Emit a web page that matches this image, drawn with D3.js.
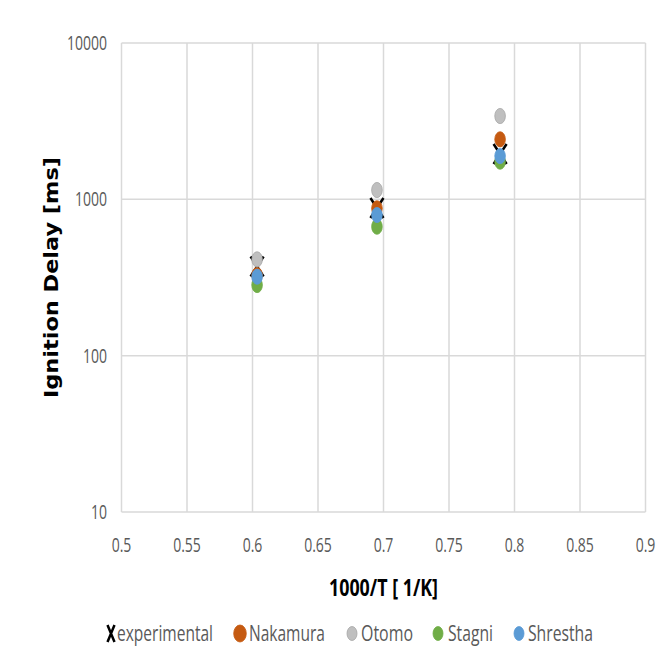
<!DOCTYPE html>
<html>
<head>
  <meta charset="UTF-8">
  <title>Ignition Delay</title>
  <style>
    body{ margin: 0; background-color: #fff; }
    text{ fill: #595959; font-family: "Open Sans", "Liberation Sans", sans-serif; }
  </style>
</head>
<body>
<svg></svg>
<script src="https://d3js.org/d3.v7.min.js"></script>
<script>

let width = 671, height = 672;

// data
let invT = [0.6035, 0.695, 0.789];
let experimental = [372, 880, 1950];
let nakamura = [328, 876, 2420];
let otomo = [413, 1147, 3412];
let stagni = [283, 668, 1741];
let shrestha = [320, 794, 1892];

let xTicks = [0.5, 0.55, 0.6, 0.65, 0.7, 0.75, 0.8, 0.85, 0.9];
let yTicks = [10, 100, 1000, 10000];

let series = [
    {name: "experimental", values: experimental, color: "#000", type: "x"},
    {name: "Nakamura", values: nakamura, color: "#C55A11", type: "o"},
    {name: "Otomo", values: otomo, color: "#BFBFBF", stroke: "#A6A6A6", type: "o"},
    {name: "Stagni", values: stagni, color: "#70AD47", type: "o"},
    {name: "Shrestha", values: shrestha, color: "#5B9BD5", type: "o"}
];

let svg = d3.select("svg")
    .attr("width", width)
    .attr("height", height);

let x = d3.scaleLinear().domain([0.5, 0.9]).range([121.5, 645.5]);
let y = d3.scaleLog().domain([10, 10000]).range([512, 43]);

// squeeze text horizontally (condensed look of the original)
function squeeze(sel, k) {
    sel.each(function() {
        let w = this.getComputedTextLength();
        d3.select(this).attr("textLength", w * k).attr("lengthAdjust", "spacingAndGlyphs");
    });
}

// grid
svg.append("g")
    .selectAll("line")
    .data(xTicks)
    .enter().append("line")
    .attr("x1", d => x(d)).attr("x2", d => x(d))
    .attr("y1", y(10000)).attr("y2", y(10))
    .attr("stroke", "#d9d9d9").attr("stroke-width", 1.5);

svg.append("g")
    .selectAll("line")
    .data(yTicks)
    .enter().append("line")
    .attr("x1", x(0.5)).attr("x2", x(0.9))
    .attr("y1", d => y(d)).attr("y2", d => y(d))
    .attr("stroke", "#d9d9d9").attr("stroke-width", 1.5);

// tick labels
let yl = svg.append("g")
    .selectAll("text")
    .data(yTicks)
    .enter().append("text")
    .attr("x", 107)
    .attr("y", d => y(d))
    .attr("dy", "0.35em")
    .attr("text-anchor", "end")
    .attr("font-size", 20)
    .text(d => d);
squeeze(yl, 0.7);

let xl = svg.append("g")
    .selectAll("text")
    .data(xTicks)
    .enter().append("text")
    .attr("x", d => x(d))
    .attr("y", 545)
    .attr("dy", "0.35em")
    .attr("text-anchor", "middle")
    .attr("font-size", 20)
    .text(d => d);
squeeze(xl, 0.7);

// axis titles
svg.append("text")
    .attr("x", 383.5)
    .attr("y", 588)
    .attr("dy", "0.35em")
    .attr("text-anchor", "middle")
    .attr("font-size", 24)
    .attr("font-weight", "bold")
    .style("fill", "#000")
    .attr("textLength", 109)
    .attr("lengthAdjust", "spacingAndGlyphs")
    .text("1000/T [ 1/K]");

svg.append("text")
    .attr("transform", "translate(51,277.5) rotate(-90)")
    .attr("dy", "0.35em")
    .attr("text-anchor", "middle")
    .attr("font-size", 20)
    .attr("font-weight", "bold")
    .style("font-family", "'DejaVu Sans', sans-serif")
    .style("fill", "#000")
    .attr("textLength", 241)
    .attr("lengthAdjust", "spacingAndGlyphs")
    .text("Ignition Delay [ms]");

// markers
function drawMarker(g, s, cx, cy, rx, ry) {
    if (s.type === "x") {
        g.append("path")
            .attr("d", `M${cx - rx},${cy - ry}L${cx + rx},${cy + ry}M${cx + rx},${cy - ry}L${cx - rx},${cy + ry}`)
            .attr("stroke", s.color)
            .attr("stroke-width", 2.5)
            .attr("fill", "none");
    } else {
        g.append("ellipse")
            .attr("cx", cx).attr("cy", cy)
            .attr("rx", rx).attr("ry", ry)
            .attr("fill", s.color)
            .attr("stroke", s.stroke || s.color)
            .attr("stroke-width", 0.8);
    }
}

let points = svg.append("g");
series.forEach(s => {
    s.values.forEach((v, i) => {
        if (s.type === "x") drawMarker(points, s, x(invT[i]), y(v), 6.5, 10);
        else drawMarker(points, s, x(invT[i]), y(v), 5.3, 7.6);
    });
});

// legend
let legendPos = [
    {m: 111, t: 117, w: 96},
    {m: 240, t: 249, w: 76},
    {m: 352, t: 361, w: 52},
    {m: 438, t: 448, w: 45},
    {m: 519, t: 528, w: 65}
];
let lg = svg.append("g");
series.forEach((s, i) => {
    let p = legendPos[i];
    if (s.type === "x") drawMarker(lg, s, p.m, 633.5, 3.5, 8.5);
    else drawMarker(lg, s, p.m, 633.5, i === 1 ? 6.3 : 5, i === 1 ? 8.5 : 7);
    lg.append("text")
        .attr("x", p.t)
        .attr("y", 634)
        .attr("dy", "0.35em")
        .attr("font-size", 21)
        .attr("textLength", p.w)
        .attr("lengthAdjust", "spacingAndGlyphs")
        .text(s.name);
});

</script>
</body>
</html>
